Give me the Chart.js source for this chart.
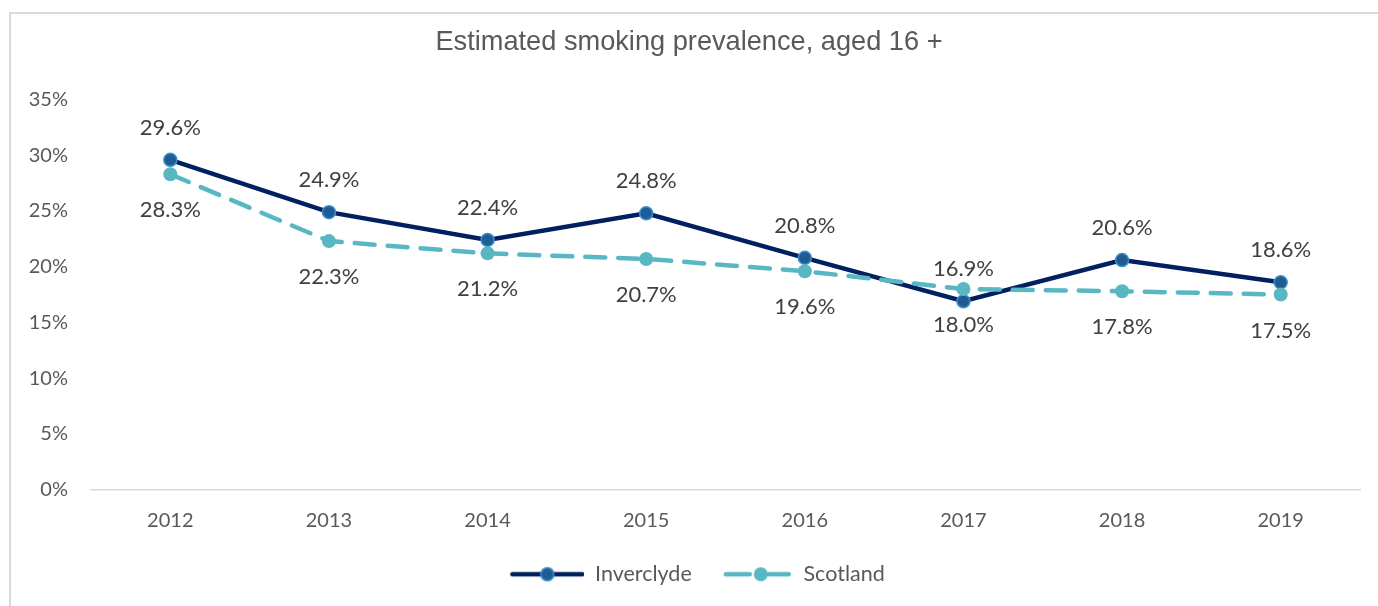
<!DOCTYPE html>
<html>
<head>
<meta charset="utf-8">
<script src="https://cdn.jsdelivr.net/npm/chart.js@4"></script>
<style>
  body { margin: 0; background: #fff; }
  #frame { position: absolute; left: 9px; top: 12px; width: 1400px; height: 620px;
           border-left: 2px solid #d9d9d9; border-top: 2px solid #d9d9d9; }
  #chart { position: absolute; left: 0; top: 0; }
</style>
</head>
<body>
<div id="frame"></div>
<canvas id="chart" width="1378" height="606"></canvas>
<script>
// chart data
const years = ["2012", "2013", "2014", "2015", "2016", "2017", "2018", "2019"];
const inverclyde = [29.6, 24.9, 22.4, 24.8, 20.8, 16.9, 20.6, 18.6];
const scotland = [28.3, 22.3, 21.2, 20.7, 19.6, 18.0, 17.8, 17.5];
const seriesNames = ["Inverclyde", "Scotland"];

const navy = "#002060";
const teal = "#58B7C3";
const markerBlue = "#1F5C94";
const markerEdge = "#3C8FCB";
const textGrey = "#595959";
const labelGrey = "#404040";
const FONT = "Lato, 'Open Sans', sans-serif";

// little pictures for the legend (line with a marker in the middle)
const makeLegendIcon = (dashed) => {
  const c = document.createElement("canvas");
  c.width = 91;
  c.height = 18;
  const g = c.getContext("2d");
  g.lineCap = "round";
  g.lineWidth = 4.5;
  if (!dashed) {
    g.strokeStyle = navy;
    g.beginPath(); g.moveTo(19, 9); g.lineTo(89, 9); g.stroke();
    g.beginPath(); g.arc(54, 9, 6.5, 0, Math.PI * 2);
    g.fillStyle = markerBlue; g.fill();
    g.lineWidth = 1.5; g.strokeStyle = markerEdge; g.stroke();
  } else {
    g.strokeStyle = teal;
    g.beginPath(); g.moveTo(24, 9); g.lineTo(48, 9); g.stroke();
    g.beginPath(); g.moveTo(67, 9); g.lineTo(87, 9); g.stroke();
    g.beginPath(); g.arc(59, 9, 7, 0, Math.PI * 2);
    g.fillStyle = teal; g.fill();
  }
  return c;
};
const legendIcons = [makeLegendIcon(false), makeLegendIcon(true)];

// draws the value labels: Inverclyde above, Scotland below
const valueLabels = {
  id: "valueLabels",
  afterDatasetsDraw(chart) {
    const ctx = chart.ctx;
    ctx.save();
    ctx.font = "22px " + FONT;
    ctx.fillStyle = labelGrey;
    ctx.textAlign = "center";
    ctx.textBaseline = "middle";
    chart.data.datasets.forEach((ds, i) => {
      const meta = chart.getDatasetMeta(i);
      meta.data.forEach((pt, j) => {
        const off = i === 0 ? -32 : 36;
        ctx.fillText(ds.data[j].toFixed(1) + "%", pt.x, pt.y + off);
      });
    });
    ctx.restore();
  }
};

const ctx = document.getElementById("chart").getContext("2d");

new Chart(ctx, {
  type: "line",
  plugins: [valueLabels],
  data: {
    labels: years,
    datasets: [
      {
        label: seriesNames[0],
        data: inverclyde,
        order: 1,
        borderColor: navy,
        borderWidth: 4.5,
        pointRadius: 6.5,
        pointBackgroundColor: markerBlue,
        pointBorderColor: markerEdge,
        pointBorderWidth: 1.5,
        tension: 0,
      },
      {
        label: seriesNames[1],
        data: scotland,
        order: 0,
        borderColor: teal,
        borderWidth: 4.5,
        borderDash: [20, 13],
        borderCapStyle: "round",
        pointRadius: 7,
        pointBackgroundColor: teal,
        pointBorderColor: teal,
        pointBorderWidth: 0,
        tension: 0,
      },
    ],
  },
  options: {
    responsive: false,
    animation: false,
    layout: { padding: { left: 18, right: 18, top: 0, bottom: 11 } },
    plugins: {
      tooltip: { enabled: false },
      title: {
        display: true,
        text: "Estimated smoking prevalence, aged 16 +",
        color: textGrey,
        font: { family: "'Liberation Sans', Arial, sans-serif", size: 27.2, weight: "normal" },
        padding: { top: 26, bottom: 41 },
      },
      legend: {
        position: "bottom",
        labels: {
          usePointStyle: true,
          pointStyleWidth: 91,
          padding: 10,
          color: textGrey,
          font: { family: FONT, size: 21.5 },
          generateLabels: () => seriesNames.map((name, i) => ({
            text: name,
            pointStyle: legendIcons[i],
            fontColor: textGrey,
            lineWidth: 0,
            datasetIndex: i,
          })),
        },
      },
    },
    scales: {
      x: {
        offset: true,
        grid: { display: false, drawTicks: false, offset: true },
        border: { display: true, color: "#d9d9d9", width: 1.5 },
        ticks: { color: textGrey, font: { family: FONT, size: 20 }, padding: 19 },
        afterFit: (scale) => { scale.height = 64; },
      },
      y: {
        min: 0,
        max: 35,
        grid: { display: false, drawTicks: false },
        border: { display: false },
        ticks: {
          stepSize: 5,
          color: textGrey,
          font: { family: FONT, size: 20 },
          padding: 23,
          callback: (v) => v + "%",
        },
        afterFit: (scale) => { scale.width = 73; },
      },
    },
  },
});
</script>
</body>
</html>
